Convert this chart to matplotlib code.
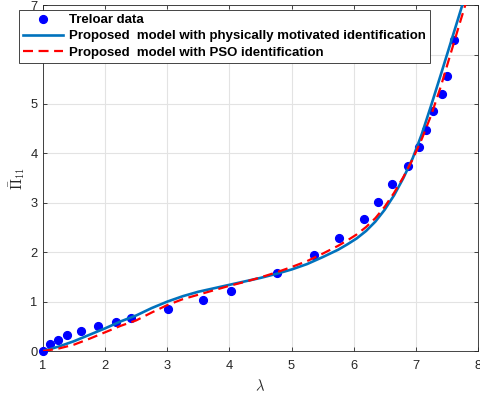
import matplotlib
matplotlib.use("Agg")
import matplotlib.pyplot as plt

plt.rcParams["font.family"] = ["Liberation Sans", "DejaVu Sans"]
plt.rcParams["mathtext.fontset"] = "cm"

# Treloar uniaxial tension data (stretch, nominal stress)
lam_data = [1.00, 1.12, 1.24, 1.39, 1.61, 1.89, 2.17, 2.42, 3.01, 3.58, 4.03,
            4.76, 5.36, 5.76, 6.16, 6.40, 6.62, 6.87, 7.05, 7.16, 7.27, 7.43,
            7.50, 7.61]
stress_data = [0.00, 0.14, 0.23, 0.32, 0.41, 0.50, 0.58, 0.67, 0.85, 1.04, 1.21,
               1.58, 1.94, 2.29, 2.67, 3.02, 3.39, 3.75, 4.12, 4.47, 4.85, 5.21,
               5.57, 6.30]

# Model responses sampled along the stretch range
lam_phys = [1.00, 1.25, 1.50, 1.75, 2.00, 2.25, 2.50, 2.75, 3.00, 3.25, 3.50,
            3.75, 4.00, 4.25, 4.50, 4.75, 5.00, 5.25, 5.50, 5.75, 5.90, 6.05,
            6.20, 6.35, 6.50, 6.65, 6.80, 6.95, 7.10, 7.25, 7.40, 7.55, 7.70,
            7.80]
stress_phys = [0.00, 0.09, 0.20, 0.33, 0.46, 0.60, 0.72, 0.87, 1.00, 1.11, 1.20,
               1.27, 1.34, 1.41, 1.48, 1.56, 1.65, 1.76, 1.90, 2.05, 2.16, 2.28,
               2.43, 2.62, 2.86, 3.15, 3.50, 3.90, 4.40, 4.98, 5.58, 6.19, 6.80,
               7.21]

lam_pso = [1.00, 1.25, 1.50, 1.75, 2.00, 2.25, 2.50, 2.75, 3.00, 3.25, 3.50,
           3.75, 4.00, 4.25, 4.50, 4.75, 5.00, 5.25, 5.50, 5.75, 5.90, 6.05,
           6.20, 6.35, 6.50, 6.65, 6.80, 6.95, 7.10, 7.25, 7.40, 7.55, 7.70,
           7.85]
stress_pso = [0.00, 0.05, 0.13, 0.25, 0.38, 0.51, 0.62, 0.78, 0.93, 1.05, 1.14,
              1.23, 1.32, 1.40, 1.49, 1.59, 1.70, 1.82, 1.97, 2.13, 2.24, 2.36,
              2.51, 2.69, 2.92, 3.20, 3.52, 3.88, 4.30, 4.78, 5.34, 5.97, 6.60,
              7.22]

x_ticks = [1, 2, 3, 4, 5, 6, 7, 8]
y_ticks = [0, 1, 2, 3, 4, 5, 6, 7]

fig = plt.figure(figsize=(4.8, 3.94), dpi=100)
ax = fig.add_axes([0.0896, 0.109, 0.906, 0.878])

ax.plot(lam_data, stress_data, "o", color="#0000FF", markersize=5.6,
        label="Treloar data", zorder=3, clip_on=False)
ax.plot(lam_phys, stress_phys, "-", color="#0072BD", linewidth=1.9,
        label="Proposed  model with physically motivated identification", zorder=4)
ax.plot(lam_pso, stress_pso, "--", color="#FF0000", linewidth=1.6,
        dashes=(4.5, 2.5),
        label="Proposed  model with PSO identification", zorder=5)

ax.set_xlim(1, 8)
ax.set_ylim(0, 7)
ax.set_xticks(x_ticks)
ax.set_yticks(y_ticks)
ax.grid(True, color="#e3e3e3", linewidth=0.8)
ax.set_axisbelow(True)
ax.tick_params(direction="in", length=3, width=0.6, colors="#262626",
               labelsize=9.3, top=True, right=True, labeltop=False, labelright=False)
ax.tick_params(axis="x", pad=6.5)
ax.tick_params(axis="y", pad=4)
for s in ax.spines.values():
    s.set_color("#262626")
    s.set_linewidth(0.6)

ax.set_xlabel(r"$\lambda$", fontsize=10.5, color="#262626", labelpad=4)
ax.set_ylabel(r"$\bar{\Pi}_{11}$", fontsize=10.5, color="#262626", labelpad=2)

leg = fig.legend(loc="upper left", bbox_to_anchor=(19 / 480, 1 - 10 / 394),
                 prop={"weight": "bold", "size": 9.5},
                 frameon=True, fancybox=False, edgecolor="#262626",
                 framealpha=1, borderpad=0.3, labelspacing=0.3,
                 handlelength=3.0, handletextpad=0.5, borderaxespad=0)
leg.get_frame().set_linewidth(0.6)
leg.set_zorder(10)

fig.savefig("out.png", dpi=100)
